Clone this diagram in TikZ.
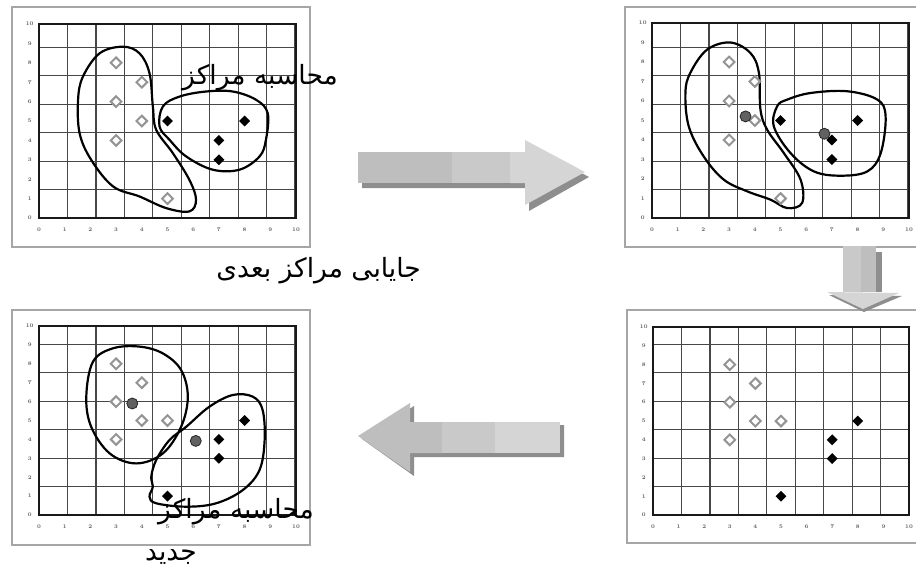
\documentclass[tikz,border=0pt]{standalone}
\usepackage{fontspec}
\newfontfamily\farsifont[Script=Arabic]{DejaVu Sans}
\TeXXeTstate=1
\usetikzlibrary{shapes.geometric}
\tikzset{
  panelframe/.style={draw=black!35,line width=1.6pt},
  gridline/.style={draw=black!72,line width=1.2pt},
  plotframe/.style={draw=black!90,line width=1.6pt},
  ticklbl/.style={font=\fontsize{5.5}{6}\selectfont\bfseries,text=black!65,inner sep=0pt},
  blob/.style={draw=black,line width=2.2pt},
  wdia/.style={diamond,draw=black!42,fill=white,line width=2pt,minimum size=11.5pt,inner sep=0pt},
  bdia/.style={diamond,fill=black,minimum size=11pt,inner sep=0pt},
  ctr/.style={circle,fill=black!62,draw=black!85,line width=.8pt,minimum size=11pt,inner sep=0pt},
  lbl/.style={font=\fontsize{26.5}{30}\selectfont\farsifont,inner sep=0pt},
}
\newcommand{\plotgrid}{%
  \draw[gridline] (0,0) grid (10,10);
  \draw[plotframe] (0,0) rectangle (10,10);
  \foreach \k in {0,...,10}{
    \node[ticklbl] (xt\k) at (\k,-.62) {\k};
    \node[ticklbl] (yt\k) at (-.36,\k) {\k};
  }}
\definecolor{arrA}{HTML}{BEBEBE}
\definecolor{arrB}{HTML}{C9C9C9}
\definecolor{arrC}{HTML}{D5D5D5}
\definecolor{arrS}{HTML}{8E8E8E}
\begin{document}
\begin{tikzpicture}[x=1pt,y=-1pt]
  \useasboundingbox[fill=white] (0,0) rectangle (916,574);
  % panel frames
  \draw[panelframe] (12,7) rectangle (310,247);
  \draw[panelframe] (625,7) rectangle (930,247);
  \draw[panelframe] (12,310) rectangle (310,545);
  \draw[panelframe] (627,310) rectangle (930,543);
  % top left: first assignment
  \begin{scope}[shift={(39,218)},x=25.7pt,y=19.4pt]
    \plotgrid
    \draw[blob] plot[smooth cycle,tension=.6] coordinates {(3.26,8.83) (2.36,8.49) (1.71,7.29)
      (1.52,6.09) (1.58,4.37) (2.03,3.0) (2.88,1.63) (3.91,1.11) (4.95,.51) (5.85,.34)
      (6.11,.94) (5.85,1.97) (5.21,3.34) (4.56,4.55) (4.43,5.75) (4.30,7.46) (3.91,8.49)};
    \draw[blob] plot[smooth cycle,tension=.6] coordinates {(4.82,5.75) (4.69,4.72) (5.08,4.03)
      (5.73,3.17) (6.76,2.49) (7.80,2.49) (8.58,3.17) (8.83,4.03) (8.90,5.40) (8.45,6.09)
      (7.54,6.52) (6.50,6.52) (5.47,6.26)};
    \foreach \p [count=\i] in {(3,8),(4,7),(3,6),(4,5),(3,4),(5,1)}
      \node[wdia] (a-w\i) at \p {};
    \foreach \p [count=\i] in {(5,5),(8,5),(7,4),(7,3)}
      \node[bdia] (a-b\i) at \p {};
  \end{scope}
  % top right: centres moved
  \begin{scope}[shift={(652,218)},x=25.7pt,y=19.5pt]
    \plotgrid
    \draw[blob] plot[smooth cycle,tension=.6] coordinates {(3.05,9.0) (2.14,8.63) (1.49,7.44)
      (1.30,6.41) (1.43,4.70) (2.01,3.16) (2.79,1.97) (3.70,1.37) (4.61,.94) (5.26,.51)
      (5.84,.77) (5.78,1.97) (5.13,3.33) (4.48,4.53) (4.22,5.56) (4.16,7.44) (3.83,8.46)};
    \draw[blob] plot[smooth cycle,tension=.6] coordinates {(4.87,5.73) (4.74,4.70) (5.39,3.33)
      (6.30,2.39) (7.34,2.17) (8.38,2.39) (8.90,3.33) (9.09,5.21) (8.77,6.07) (7.60,6.50)
      (6.17,6.41) (5.26,6.07)};
    \foreach \p [count=\i] in {(3,8),(4,7),(3,6),(4,5),(3,4),(5,1)}
      \node[wdia] (b-w\i) at \p {};
    \foreach \p [count=\i] in {(5,5),(8,5),(7,4),(7,3)}
      \node[bdia] (b-b\i) at \p {};
    \node[ctr] (b-c1) at (3.64,5.21) {};
    \node[ctr] (b-c2) at (6.71,4.32) {};
  \end{scope}
  % bottom right: data
  \begin{scope}[shift={(653,515)},x=25.6pt,y=18.8pt]
    \plotgrid
    \foreach \p [count=\i] in {(3,8),(4,7),(3,6),(4,5),(5,5),(3,4)}
      \node[wdia] (d-w\i) at \p {};
    \foreach \p [count=\i] in {(8,5),(7,4),(7,3),(5,1)}
      \node[bdia] (d-b\i) at \p {};
  \end{scope}
  % bottom left: new centres
  \begin{scope}[shift={(39,515)},x=25.7pt,y=18.9pt]
    \plotgrid
    \draw[blob] plot[smooth cycle,tension=.6] coordinates {(2.88,8.82) (2.10,8.11) (1.84,6.26)
      (2.03,4.67) (2.75,3.26) (3.78,2.73) (4.82,3.26) (5.53,4.67) (5.79,6.26) (5.53,7.67)
      (4.82,8.55) (3.91,8.91)};
    \draw[blob] plot[smooth cycle,tension=.6] coordinates {(4.43,1.50) (4.30,.97) (4.56,.62)
      (5.73,.44) (6.89,.62) (7.93,1.32) (8.58,2.38) (8.78,3.97) (8.70,5.56) (8.32,6.26)
      (7.54,6.35) (6.63,5.73) (5.73,4.67) (5.08,3.97) (4.56,2.91) (4.37,2.03)};
    \foreach \p [count=\i] in {(3,8),(4,7),(3,6),(4,5),(5,5),(3,4)}
      \node[wdia] (c-w\i) at \p {};
    \foreach \p [count=\i] in {(8,5),(7,4),(7,3),(5,1)}
      \node[bdia] (c-b\i) at \p {};
    \node[ctr] (c-c1) at (3.63,5.9) {};
    \node[ctr] (c-c2) at (6.1,3.92) {};
  \end{scope}
  % arrows
  \fill[arrS] (362,157) -- (529,157) -- (529,145) -- (589,177) -- (529,211) -- (529,188) -- (362,188) -- cycle;
  \fill[arrA] (358,152) rectangle (452,183);
  \fill[arrB] (452,152) rectangle (510,183);
  \fill[arrC] (510,152) -- (525,152) -- (525,140) -- (585,172) -- (525,205) -- (525,183) -- (510,183) -- cycle;
  \fill[arrS] (847,252) rectangle (882,292);
  \fill[arrB] (843,246) rectangle (861,292);
  \fill[arrA] (861,246) rectangle (876,292);
  \fill[arrS] (829,295) -- (902,296) -- (864,312) -- cycle;
  \fill[arrC] (827,292) -- (899,293) -- (863,309) -- cycle;
  \fill[arrS] (362,439) -- (414,406) -- (414,425) -- (564,425) -- (564,457) -- (414,457) -- (414,476) -- cycle;
  \fill[arrA] (358,436) -- (410,403) -- (410,422) -- (442,422) -- (442,453) -- (410,453) -- (410,472) -- cycle;
  \fill[arrB] (442,422) rectangle (495,453);
  \fill[arrC] (495,422) rectangle (560,453);
  % labels
  \node[lbl,anchor=east] (t1) at (338,78) {\beginR محاسبه مراکز\endR};
  \node[lbl,anchor=east] (t2) at (421,271) {\beginR جایابی مراکز بعدی\endR};
  \node[lbl,anchor=east] (t3) at (314,512) {\beginR محاسبه مراکز\endR};
  \node[lbl] (t4) at (171,557) {\beginR جدید\endR};
\end{tikzpicture}
\end{document}
